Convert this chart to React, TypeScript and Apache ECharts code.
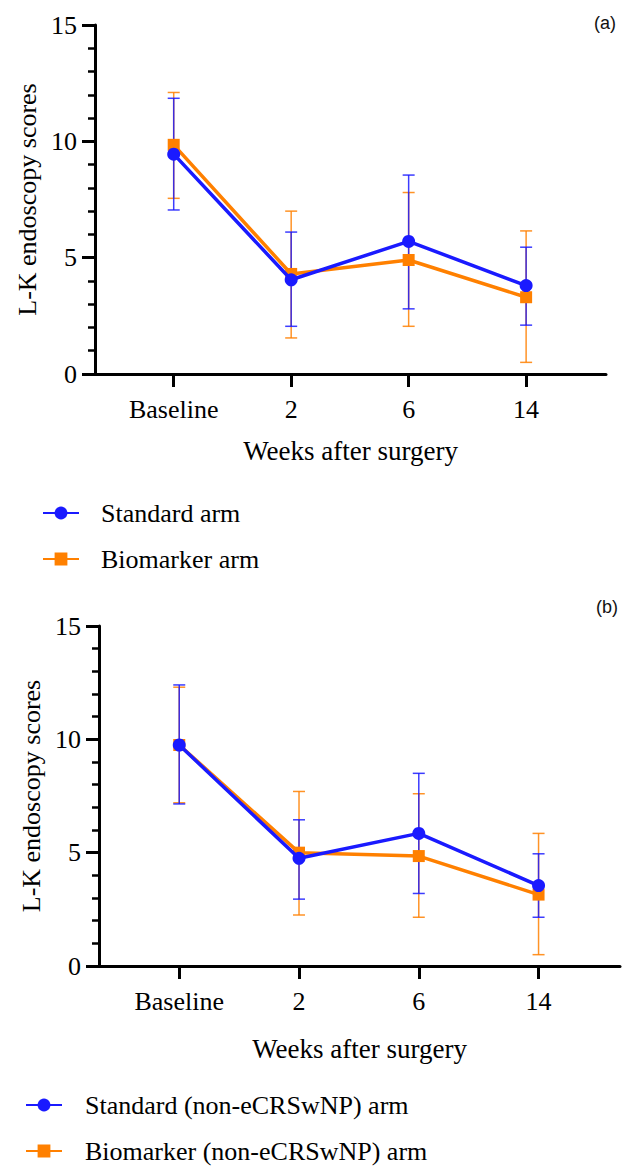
import React, { useEffect, useRef } from "react";
import * as echarts from "echarts";

const categories = ["Baseline", "2", "6", "14"];
const categoryPositions = [0, 1, 2, 3];

// Panel (a)
const aStandardMean = [9.45, 4.05, 5.7, 3.8];
const aStandardLow = [7.05, 2.05, 2.8, 2.1];
const aStandardHigh = [11.85, 6.1, 8.55, 5.45];
const aBiomarkerMean = [9.85, 4.3, 4.9, 3.3];
const aBiomarkerLow = [7.55, 1.55, 2.05, 0.5];
const aBiomarkerHigh = [12.1, 7.0, 7.8, 6.15];

// Panel (b)
const bStandardMean = [9.75, 4.75, 5.85, 3.55];
const bStandardLow = [7.15, 2.95, 3.2, 2.15];
const bStandardHigh = [12.4, 6.45, 8.5, 4.95];
const bBiomarkerMean = [9.75, 5.0, 4.85, 3.15];
const bBiomarkerLow = [7.2, 2.25, 2.15, 0.5];
const bBiomarkerHigh = [12.3, 7.7, 7.6, 5.85];

const aNames = ["Standard arm", "Biomarker arm"];
const bNames = ["Standard (non-eCRSwNP) arm", "Biomarker (non-eCRSwNP) arm"];
const panelLabels = ["(a)", "(b)"];
const xTitle = "Weeks after surgery";
const yTitle = "L-K endoscopy scores";

const BLUE = "#1a1aff";
const ORANGE = "#ff8000";
const SERIF = "'Liberation Serif', 'Times New Roman', serif";

function errorSeries(idx: number, low: number[], high: number[], color: string) {
  return {
    type: "custom",
    xAxisIndex: idx,
    yAxisIndex: idx,
    silent: true,
    z: 1,
    data: low.map((l, i) => [categoryPositions[i], l, high[i]]),
    encode: { x: 0, y: [1, 2] },
    renderItem: (params: any, api: any) => {
      const x = api.value(0);
      const lo = api.coord([x, api.value(1)]);
      const hi = api.coord([x, api.value(2)]);
      const cap = 6;
      const style = { stroke: color, lineWidth: 1.5, opacity: 0.85 };
      return {
        type: "group",
        children: [
          { type: "line", shape: { x1: lo[0], y1: lo[1], x2: hi[0], y2: hi[1] }, style },
          { type: "line", shape: { x1: hi[0] - cap, y1: hi[1], x2: hi[0] + cap, y2: hi[1] }, style },
          { type: "line", shape: { x1: lo[0] - cap, y1: lo[1], x2: lo[0] + cap, y2: lo[1] }, style },
        ],
      };
    },
  };
}

function lineSeries(idx: number, name: string, mean: number[], color: string, symbol: string, size: number, z: number) {
  return {
    type: "line",
    name,
    xAxisIndex: idx,
    yAxisIndex: idx,
    z,
    data: mean.map((v, i) => [categoryPositions[i], v]),
    symbol,
    symbolSize: size,
    showSymbol: true,
    lineStyle: { color, width: 3.5 },
    itemStyle: { color },
  };
}

function xAxis(idx: number, nameGap: number) {
  return {
    type: "value",
    gridIndex: idx,
    min: -0.67,
    max: 3.68,
    axisLine: { show: true, onZero: false, lineStyle: { color: "#000", width: 3 } },
    axisTick: { show: true, customValues: categoryPositions, length: 13, lineStyle: { color: "#000", width: 3 } },
    axisLabel: {
      customValues: categoryPositions,
      formatter: (v: number) => categories[Math.round(v)] ?? "",
      margin: 22,
      fontSize: 26,
      fontFamily: SERIF,
      color: "#000",
    },
    splitLine: { show: false },
    name: xTitle,
    nameLocation: "middle",
    nameGap,
    nameTextStyle: { fontSize: 27, fontFamily: SERIF, color: "#000" },
  };
}

function yAxis(idx: number) {
  return {
    type: "value",
    gridIndex: idx,
    min: 0,
    max: 15,
    interval: 5,
    axisLine: { show: true, onZero: false, lineStyle: { color: "#000", width: 3 } },
    axisTick: { show: true, length: 13, lineStyle: { color: "#000", width: 3 } },
    minorTick: { show: true, splitNumber: 5, length: 7, lineStyle: { color: "#000", width: 2.5 } },
    axisLabel: { margin: 18, fontSize: 26, fontFamily: SERIF, color: "#000" },
    splitLine: { show: false },
    minorSplitLine: { show: false },
    name: yTitle,
    nameLocation: "middle",
    nameGap: 55,
    nameTextStyle: { fontSize: 26, fontFamily: SERIF, color: "#000" },
  };
}

function legend(names: string[], left: number, top: number, pad: number) {
  return {
    data: names,
    orient: "vertical",
    left,
    top,
    padding: 0,
    itemWidth: 36,
    itemHeight: 16,
    itemGap: 20,
    selectedMode: false,
    textStyle: { fontSize: 26, fontFamily: SERIF, color: "#000", lineHeight: 26, padding: [0, 0, 0, pad] },
  };
}

export default function App() {
  const ref = useRef<HTMLDivElement>(null);
  useEffect(() => {
    if (!ref.current) return;
    const chart = echarts.init(ref.current, undefined, { renderer: "svg" });
    chart.setOption({
      animation: false,
      backgroundColor: "#fff",
      textStyle: { fontFamily: SERIF },
      grid: [
        { left: 95, top: 25, width: 511, height: 349 },
        { left: 99, top: 626, width: 521, height: 340 },
      ],
      xAxis: [xAxis(0, 63), xAxis(1, 69)],
      yAxis: [yAxis(0), yAxis(1)],
      legend: [legend(aNames, 42, 500, 17), legend(bNames, 25, 1092, 18)],
      graphic: [
        { type: "text", x: 605, y: 23, style: { text: panelLabels[0], font: "18px 'Liberation Sans'", fill: "#111", align: "center", verticalAlign: "middle" } },
        { type: "text", x: 607, y: 607, style: { text: panelLabels[1], font: "18px 'Liberation Sans'", fill: "#111", align: "center", verticalAlign: "middle" } },
      ],
      series: [
        errorSeries(0, aBiomarkerLow, aBiomarkerHigh, ORANGE),
        errorSeries(0, aStandardLow, aStandardHigh, BLUE),
        lineSeries(0, aNames[1], aBiomarkerMean, ORANGE, "rect", 12, 2),
        lineSeries(0, aNames[0], aStandardMean, BLUE, "circle", 13, 3),
        errorSeries(1, bBiomarkerLow, bBiomarkerHigh, ORANGE),
        errorSeries(1, bStandardLow, bStandardHigh, BLUE),
        lineSeries(1, bNames[1], bBiomarkerMean, ORANGE, "rect", 12, 2),
        lineSeries(1, bNames[0], bStandardMean, BLUE, "circle", 13, 3),
      ],
    });
    return () => chart.dispose();
  }, []);
  return <div ref={ref} style={{ position: "absolute", left: 0, top: 0, width: 630, height: 1166 }} />;
}
